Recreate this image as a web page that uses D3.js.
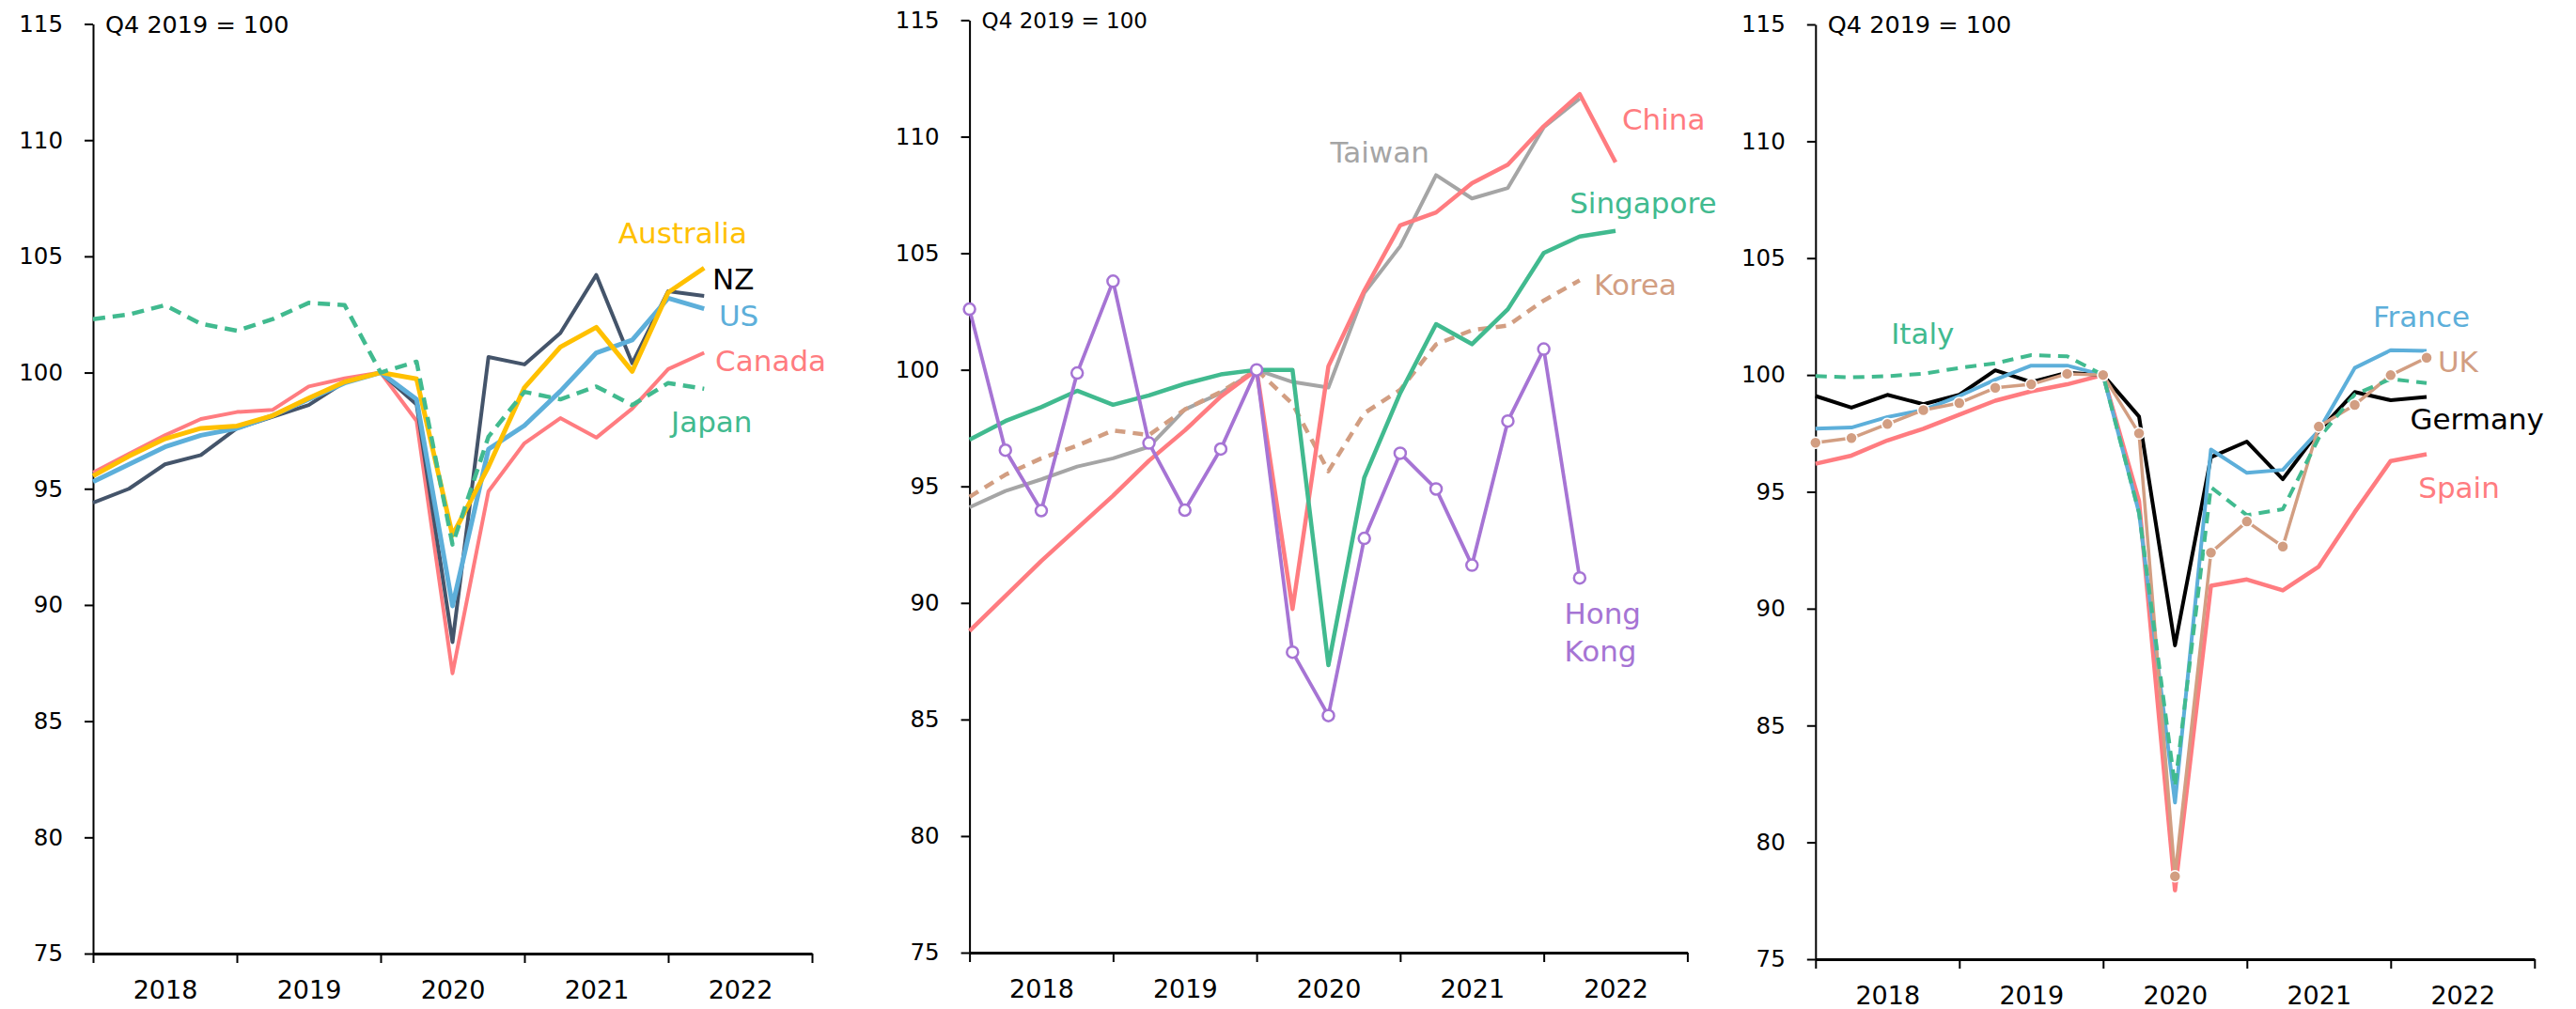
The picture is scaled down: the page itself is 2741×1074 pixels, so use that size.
<!DOCTYPE html>
<html><head><meta charset="utf-8">
<script src="https://cdn.jsdelivr.net/npm/d3@7"></script>
<style>
body{margin:0;background:#fff}
svg{display:block}
text{font-family:"DejaVu Sans",sans-serif}
</style>
</head><body>
<svg id="chart" width="2741" height="1074"></svg>
<script>
// ---------- DATA ----------
// quarter index 0 = Q4 2017 ... 20 = Q4 2022
const quarters = ["Q4 2017","Q1 2018","Q2 2018","Q3 2018","Q4 2018","Q1 2019","Q2 2019","Q3 2019","Q4 2019",
  "Q1 2020","Q2 2020","Q3 2020","Q4 2020","Q1 2021","Q2 2021","Q3 2021","Q4 2021","Q1 2022","Q2 2022","Q3 2022","Q4 2022"];
const yearLabels = ["2018","2019","2020","2021","2022"];
const yearBoundaryTicks = [0,4,8,12,16,20];
const yearLabelPos = [2,6,10,14,18];
const yTicks = [75,80,85,90,95,100,105,110,115];
const baseNote = "Q4 2019 = 100";

// Panel 1
const australia = [95.55,96.4,97.15,97.6,97.7,98.15,98.9,99.6,100,99.73,93.0,95.95,99.35,101.1,101.95,100.05,103.45,104.5];
const nz        = [94.4,95.0,96.05,96.45,97.6,98.1,98.6,99.6,100,98.63,88.4,100.67,100.35,101.7,104.2,100.4,103.5,103.3];
const us        = [95.3,96.05,96.8,97.3,97.6,98.15,98.85,99.55,100,98.85,89.96,96.7,97.72,99.2,100.85,101.4,103.2,102.75];
const canada    = [95.7,96.5,97.3,98.0,98.3,98.4,99.4,99.75,100,97.92,87.06,94.89,96.96,98.04,97.2,98.45,100.15,100.85];
const japan     = [102.3,102.5,102.9,102.1,101.8,102.3,103.0,102.9,100,100.47,92.6,97.24,99.17,98.85,99.4,98.6,99.55,99.3];

// Panel 2
const china     = [88.8,90.3,91.8,93.2,94.6,96.1,97.4,98.85,100,89.74,100.15,103.4,106.2,106.75,108.0,108.8,110.45,111.83,108.9];
const taiwan    = [94.1,94.8,95.3,95.85,96.2,96.7,98.3,99.0,100,99.48,99.24,103.3,105.3,108.35,107.35,107.8,110.4,111.63];
const singapore = [97.0,97.8,98.4,99.1,98.5,98.9,99.4,99.8,100,99.99,87.33,95.38,99.0,101.96,101.1,102.6,105.01,105.72,105.96];
const korea     = [94.55,95.5,96.2,96.75,97.4,97.2,98.3,99.05,100,98.54,95.65,98.14,99.14,101.09,101.7,101.9,102.97,103.84];
const hongKong  = [102.6,96.55,93.96,99.86,103.8,96.86,93.98,96.6,100,87.89,85.17,92.77,96.42,94.89,91.62,97.8,100.89,91.07];

// Panel 3
const italy     = [99.95,99.9,99.95,100.05,100.3,100.5,100.85,100.8,100,94.1,82.4,95.2,94.0,94.26,97.3,99.16,99.83,99.65];
const france    = [97.7,97.75,98.2,98.5,99.1,99.8,100.4,100.4,100,94.1,81.7,96.81,95.81,95.94,97.62,100.3,101.06,101.03];
const germany   = [99.1,98.6,99.15,98.75,99.15,100.2,99.7,100.1,100,98.22,88.43,96.48,97.15,95.54,97.6,99.27,98.92,99.06];
const uk        = [97.1,97.3,97.9,98.5,98.8,99.45,99.6,100.05,100,97.5,78.55,92.4,93.73,92.66,97.79,98.72,99.99,100.74];
const spain     = [96.2,96.55,97.2,97.7,98.3,98.9,99.3,99.6,100,94.6,77.95,90.98,91.25,90.78,91.8,94.13,96.32,96.61];

// ---------- STYLE / LAYOUT ----------
const C = {yellow:"#FFC000", slate:"#44546A", blue:"#5DAFDA", pink:"#FF7C80", green:"#41BA8F",
           gray:"#A5A5A5", tan:"#D29E82", purple:"#A674D4", black:"#000000"};

const panels = [
  { x0:99, x1:864, yTop:25.5, yBot:1015, noteSize:25.5,
    series:[
      {name:"Canada", data:canada, color:C.pink, w:4},
      {name:"NZ", data:nz, color:C.slate, w:4},
      {name:"US", data:us, color:C.blue, w:5},
      {name:"Australia", data:australia, color:C.yellow, w:5},
      {name:"Japan", data:japan, color:C.green, w:4.5, dash:"13,8"}
    ],
    labels:[
      {t:"Australia", q:14.61, v:105.56, color:C.yellow},
      {t:"NZ", q:17.23, v:103.56, color:"#000"},
      {t:"US", q:17.41, v:102.02, color:C.blue},
      {t:"Canada", q:17.31, v:100.07, color:C.pink},
      {t:"Japan", q:16.08, v:97.44, color:C.green}
    ]},
  { x0:1031.6, x1:1795.4, yTop:21.4, yBot:1014, noteSize:23,
    series:[
      {name:"Taiwan", data:taiwan, color:C.gray, w:4},
      {name:"Korea", data:korea, color:C.tan, w:4.5, dash:"11,8"},
      {name:"China", data:china, color:C.pink, w:4.5},
      {name:"Singapore", data:singapore, color:C.green, w:4.5},
      {name:"Hong Kong", data:hongKong, color:C.purple, w:3.8, hollow:true}
    ],
    labels:[
      {t:"China", q:18.18, v:110.29, color:C.pink},
      {t:"Taiwan", q:10.05, v:108.88, color:C.gray},
      {t:"Singapore", q:16.72, v:106.73, color:C.green},
      {t:"Korea", q:17.40, v:103.21, color:C.tan},
      {t:"Hong", q:16.57, v:89.09, color:C.purple},
      {t:"Kong", q:16.57, v:87.51, color:C.purple}
    ]},
  { x0:1931.8, x1:2696.8, yTop:26, yBot:1021, noteSize:25.5,
    series:[
      {name:"Spain", data:spain, color:C.pink, w:4.5},
      {name:"Germany", data:germany, color:C.black, w:4},
      {name:"France", data:france, color:C.blue, w:4},
      {name:"UK", data:uk, color:C.tan, w:3.5, filled:true},
      {name:"Italy", data:italy, color:C.green, w:4, dash:"12,8"}
    ],
    labels:[
      {t:"Italy", q:2.10, v:101.35, color:C.green},
      {t:"France", q:15.51, v:102.04, color:C.blue},
      {t:"UK", q:17.31, v:100.13, color:C.tan},
      {t:"Germany", q:16.54, v:97.68, color:"#000"},
      {t:"Spain", q:16.77, v:94.73, color:C.pink}
    ]}
];

const svg = d3.select("#chart");
svg.append("rect").attr("width",2741).attr("height",1074).attr("fill","#fff");

panels.forEach(p => {
  const x = d3.scaleLinear().domain([0, quarters.length-1]).range([p.x0, p.x1]);
  const y = d3.scaleLinear().domain([75,115]).range([p.yBot, p.yTop]);
  const g = svg.append("g");

  // y axis
  const yAx = g.append("g").attr("transform",`translate(${p.x0},0)`)
    .call(d3.axisLeft(y).tickValues(yTicks).tickSize(9).tickSizeOuter(0).tickPadding(23));
  yAx.select(".domain").attr("stroke","#000").attr("stroke-width",2);
  yAx.selectAll(".tick line").attr("stroke","#000").attr("stroke-width",2);
  yAx.selectAll(".tick text").attr("font-size",24.5).attr("fill","#000")
     .style("font-family",'"DejaVu Sans",sans-serif');

  // x axis: boundary ticks
  const xAx = g.append("g").attr("transform",`translate(0,${p.yBot})`)
    .call(d3.axisBottom(x).tickValues(yearBoundaryTicks).tickSize(10).tickSizeOuter(0).tickFormat(""));
  xAx.select(".domain").attr("stroke","#000").attr("stroke-width",3);
  xAx.selectAll(".tick line").attr("stroke","#000").attr("stroke-width",2);
  // x axis: year labels
  const xLab = g.append("g").attr("transform",`translate(0,${p.yBot})`)
    .call(d3.axisBottom(x).tickValues(yearLabelPos).tickSize(0).tickPadding(29)
      .tickFormat((d,i)=>yearLabels[i]));
  xLab.select(".domain").remove();
  xLab.selectAll(".tick text").attr("font-size",27).attr("fill","#000")
      .style("font-family",'"DejaVu Sans",sans-serif');

  // note
  g.append("text").attr("x", p.x0 + 13).attr("y", y(115)).attr("dy","0.36em")
    .attr("font-size", p.noteSize).attr("fill","#000").text(baseNote);

  // lines
  const line = d3.line().x((d,i)=>x(i)).y(d=>y(d));
  p.series.forEach(s => {
    g.append("path").datum(s.data)
      .attr("fill","none").attr("stroke",s.color).attr("stroke-width",s.w)
      .attr("stroke-linejoin","round")
      .attr("stroke-dasharray", s.dash || null)
      .attr("d", line);
  });
  // markers on top
  p.series.forEach(s => {
    if (s.hollow) {
      g.append("g").selectAll("circle").data(s.data).join("circle")
        .attr("cx",(d,i)=>x(i)).attr("cy",d=>y(d)).attr("r",6)
        .attr("fill","#fff").attr("stroke",s.color).attr("stroke-width",2.5);
    }
    if (s.filled) {
      g.append("g").selectAll("circle").data(s.data).join("circle")
        .attr("cx",(d,i)=>x(i)).attr("cy",d=>y(d)).attr("r",6)
        .attr("fill",s.color).attr("stroke","#fff").attr("stroke-width",1.5);
    }
  });

  // series labels
  p.labels.forEach(l => {
    g.append("text").attr("x", x(l.q)).attr("y", y(l.v))
      .attr("font-size",31).attr("fill",l.color).text(l.t);
  });
});
</script>
</body></html>
